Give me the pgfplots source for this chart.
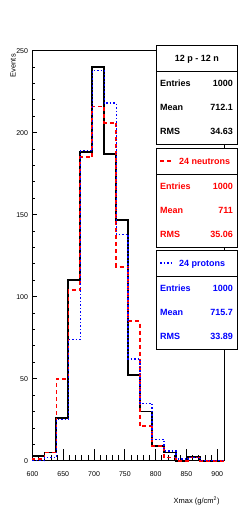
\documentclass[border=0pt]{standalone}
\usepackage{pgfplots}
\pgfplotsset{compat=1.18}
\usepackage{fontspec}
\setmainfont{Liberation Sans}

\begin{document}
\begin{tikzpicture}[x=1pt,y=1pt]
\useasboundingbox (0,0) rectangle (249,517);
\begin{axis}[at={(32.5pt,56.3pt)}, anchor=south west,
  width=191.5pt, height=410pt, scale only axis,
  xmin=600, xmax=911, ymin=0, ymax=250,
  xtick={600,650,...,900}, ytick={0,50,...,250},
  minor x tick num=4, minor y tick num=4,
  tick pos=left, tick align=inside,
  xtick style={/pgfplots/major tick length=12pt, /pgfplots/minor tick length=6pt, line width=0.8pt, black},
  ytick style={/pgfplots/major tick length=5pt, /pgfplots/minor tick length=3pt, line width=0.8pt, black},
  axis line style={line width=0.9pt},
  ticklabel style={font=\fontsize{7}{8}\selectfont},
  xticklabel style={yshift=-7.5pt},
  yticklabel style={xshift=-1pt},
  /pgf/number format/assume math mode=true,
  xlabel={Xmax (g/cm\textsuperscript{2})},
  ylabel={Events},
  every axis x label/.style={at={(axis description cs:0.995,-0.0983)}, anchor=east, font=\fontsize{7.5}{9}\selectfont},
  every axis y label/.style={at={(axis description cs:-0.1018,1)}, rotate=90, anchor=east, font=\fontsize{7.5}{9}\selectfont},
  clip=false,
]
\addplot[const plot, black, line width=1.9pt, no marks] coordinates {
(600,0) (600,3) (619.4375,5) (638.875,26) (658.3125,110) (677.75,188) (697.1875,240)
(716.625,187) (736.0625,147) (755.5,52) (774.9375,30) (794.375,9) (813.8125,5)
(833.25,0) (852.6875,2) (872.125,0) (891.5625,0) (911,0)};
\addplot[const plot, red, line width=1.8pt, dash pattern=on 4pt off 3pt, no marks] coordinates {
(600,0) (600,1) (619.4375,5) (638.875,50) (658.3125,104) (677.75,185) (697.1875,216)
(716.625,206) (736.0625,118) (755.5,85) (774.9375,21) (794.375,9) (813.8125,2)
(833.25,0) (852.6875,2) (872.125,0) (891.5625,0) (911,0)};
\addplot[const plot, blue, line width=1.5pt, dash pattern=on 1.5pt off 2pt, no marks] coordinates {
(600,0) (600,0) (619.4375,2) (638.875,25) (658.3125,74) (677.75,189) (697.1875,238)
(716.625,218) (736.0625,138) (755.5,62) (774.9375,35) (794.375,13) (813.8125,6)
(833.25,1) (852.6875,2) (872.125,0) (891.5625,0) (911,0)};
\end{axis}
\tikzset{st/.style={inner sep=0pt, font=\fontsize{9}{10}\selectfont\bfseries, text height=6.4pt, text depth=0pt}}
% box 1
\fill[white] (156.7,373) rectangle (237,472);
\draw[line width=0.8pt] (156.7,373) rectangle (237,472);
\draw[line width=0.8pt] (156.7,446) -- (237,446);
\node[st] at (196.9,459) {12 p - 12 n};
\node[st, anchor=west] at (160,434) {Entries};
\node[st, anchor=east] at (233,434) {1000};
\node[st, anchor=west] at (160,410) {Mean};
\node[st, anchor=east] at (233,410) {712.1};
\node[st, anchor=west] at (160,386) {RMS};
\node[st, anchor=east] at (233,386) {34.63};
% box 2
\fill[white] (156.7,270) rectangle (237,369);
\draw[line width=0.8pt] (156.7,270) rectangle (237,369);
\draw[line width=0.8pt] (156.7,343) -- (237,343);
\draw[red, line width=1.8pt, dash pattern=on 4pt off 3pt] (160,356) -- (173,356);
\node[st, red, anchor=west] at (179,356) {24 neutrons};
\node[st, red, anchor=west] at (160,331) {Entries};
\node[st, red, anchor=east] at (233,331) {1000};
\node[st, red, anchor=west] at (160,307) {Mean};
\node[st, red, anchor=east] at (233,307) {711};
\node[st, red, anchor=west] at (160,283) {RMS};
\node[st, red, anchor=east] at (233,283) {35.06};
% box 3
\fill[white] (156.7,168) rectangle (237,267);
\draw[line width=0.8pt] (156.7,168) rectangle (237,267);
\draw[line width=0.8pt] (156.7,241) -- (237,241);
\draw[blue, line width=1.5pt, dash pattern=on 1.5pt off 2pt] (160,254) -- (173,254);
\node[st, blue, anchor=west] at (179,254) {24 protons};
\node[st, blue, anchor=west] at (160,229) {Entries};
\node[st, blue, anchor=east] at (233,229) {1000};
\node[st, blue, anchor=west] at (160,205) {Mean};
\node[st, blue, anchor=east] at (233,205) {715.7};
\node[st, blue, anchor=west] at (160,181) {RMS};
\node[st, blue, anchor=east] at (233,181) {33.89};
\end{tikzpicture}
\end{document}
